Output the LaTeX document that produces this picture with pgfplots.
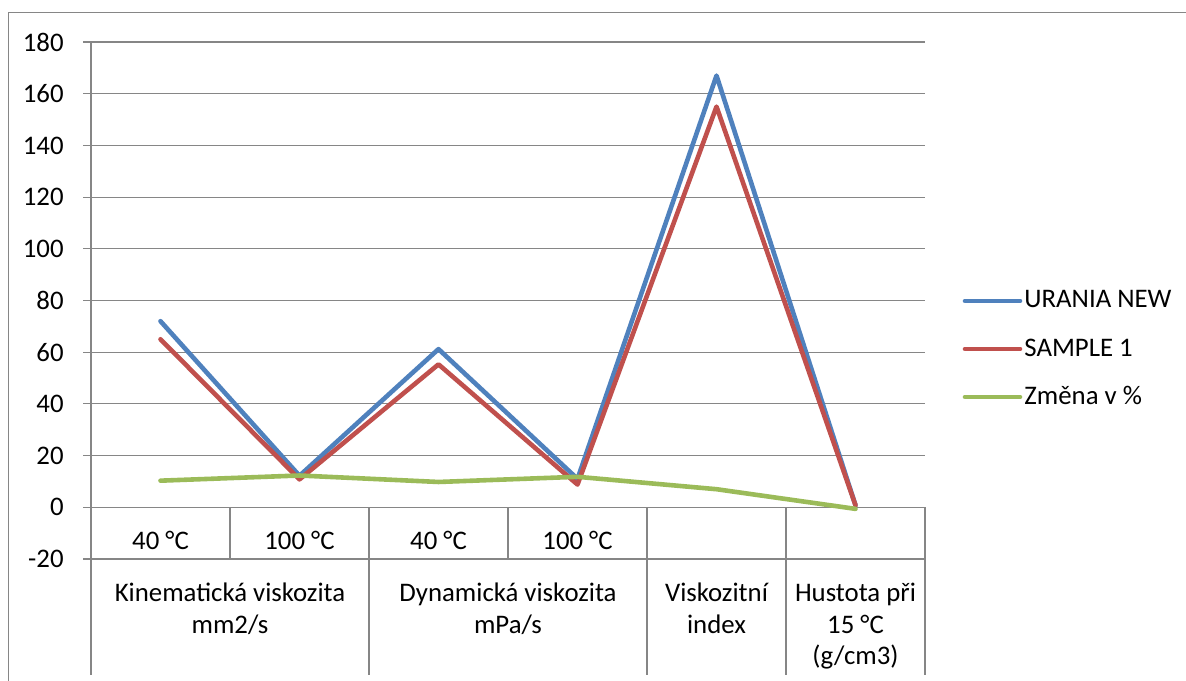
\documentclass[border=0pt]{standalone}
\usepackage{pgfplots}
\pgfplotsset{compat=1.18}
\usepackage{fontspec}
\setmainfont{Carlito}
\definecolor{cblue}{HTML}{4F81BD}
\definecolor{cred}{HTML}{C0504D}
\definecolor{cgreen}{HTML}{9BBB59}
\definecolor{cgray}{HTML}{868686}
\begin{document}
\fontsize{13.4}{16}\selectfont
\begin{tikzpicture}
\useasboundingbox (-45.5pt,-60.5pt) rectangle (547.5pt,279.5pt);
\draw[cgray, line width=0.55pt] (-41.25pt,-70pt) -- (-41.25pt,273.25pt) -- (560pt,273.25pt);
\begin{axis}[
  at={(0,0)}, anchor=south west,
  scale only axis, width=417pt, height=258.5pt,
  xmin=0, xmax=6, ymin=-20, ymax=180,
  clip=false,
  axis line style={draw=none},
  xtick=\empty,
  ytick={-20,0,20,40,60,80,100,120,140,160,180},
  yticklabels={-20,0,20,40,60,80,100,120,140,160,180},
  ytick pos=left, tick align=outside, major tick length=4pt,
  ytick style={cgray, line width=0.55pt},
  yticklabel style={anchor=east, inner sep=0pt, font=\fontsize{13.4}{16}\selectfont},
  yticklabel shift=9.5pt,
  ymajorgrids, grid style={cgray, line width=0.55pt},
  every axis plot/.append style={line width=2.3pt, line cap=round, line join=round},
]
\addplot[cblue] coordinates {(0.5,72) (1.5,12.2) (2.5,61.2) (3.5,11) (4.5,167) (5.5,0.8)};
\addplot[cred] coordinates {(0.5,65) (1.5,10.8) (2.5,55.3) (3.5,8.8) (4.5,155) (5.5,0.8)};
\addplot[cgreen] coordinates {(0.5,10.3) (1.5,12.3) (2.5,9.8) (3.5,11.8) (4.5,7) (5.5,-0.6)};
% category table lines
\draw[cgray, line width=0.55pt] (axis cs:0,180) -- (axis cs:0,-64.9);
\draw[cgray, line width=0.55pt] (axis cs:1,0) -- (axis cs:1,-20);
\draw[cgray, line width=0.55pt] (axis cs:3,0) -- (axis cs:3,-20);
\draw[cgray, line width=0.55pt] (axis cs:2,0) -- (axis cs:2,-64.9);
\draw[cgray, line width=0.55pt] (axis cs:4,0) -- (axis cs:4,-64.9);
\draw[cgray, line width=0.55pt] (axis cs:5,0) -- (axis cs:5,-64.9);
\draw[cgray, line width=0.55pt] (axis cs:6,0) -- (axis cs:6,-64.9);
% first row labels
\node[anchor=base, inner sep=0pt] at (axis cs:0.5,-16.5) {40 °C};
\node[anchor=base, inner sep=0pt] at (axis cs:1.5,-16.5) {100 °C};
\node[anchor=base, inner sep=0pt] at (axis cs:2.5,-16.5) {40 °C};
\node[anchor=base, inner sep=0pt] at (axis cs:3.5,-16.5) {100 °C};
% second row labels
\node[anchor=base, inner sep=0pt] at (axis cs:1,-36.6) {Kinematická viskozita};
\node[anchor=base, inner sep=0pt] at (axis cs:1,-48.8) {mm2/s};
\node[anchor=base, inner sep=0pt] at (axis cs:3,-36.6) {Dynamická viskozita};
\node[anchor=base, inner sep=0pt] at (axis cs:3,-48.8) {mPa/s};
\node[anchor=base, inner sep=0pt] at (axis cs:4.5,-36.6) {Viskozitní};
\node[anchor=base, inner sep=0pt] at (axis cs:4.5,-48.8) {index};
\node[anchor=base, inner sep=0pt] at (axis cs:5.5,-36.6) {Hustota při};
\node[anchor=base, inner sep=0pt] at (axis cs:5.5,-48.8) {15 °C};
\node[anchor=base, inner sep=0pt] at (axis cs:5.5,-61.0) {(g/cm3)};
\end{axis}
% legend
\draw[cblue, line width=2.3pt, line cap=round] (437pt,129pt) -- (464.5pt,129pt);
\node[anchor=base west, inner sep=0pt] at (466.5pt,125.5pt) {URANIA NEW};
\draw[cred, line width=2.3pt, line cap=round] (437pt,105pt) -- (464.5pt,105pt);
\node[anchor=base west, inner sep=0pt] at (466.5pt,101.5pt) {SAMPLE 1};
\draw[cgreen, line width=2.3pt, line cap=round] (437pt,81pt) -- (464.5pt,81pt);
\node[anchor=base west, inner sep=0pt] at (466.5pt,77.5pt) {Změna v \%};
\end{tikzpicture}
\end{document}
